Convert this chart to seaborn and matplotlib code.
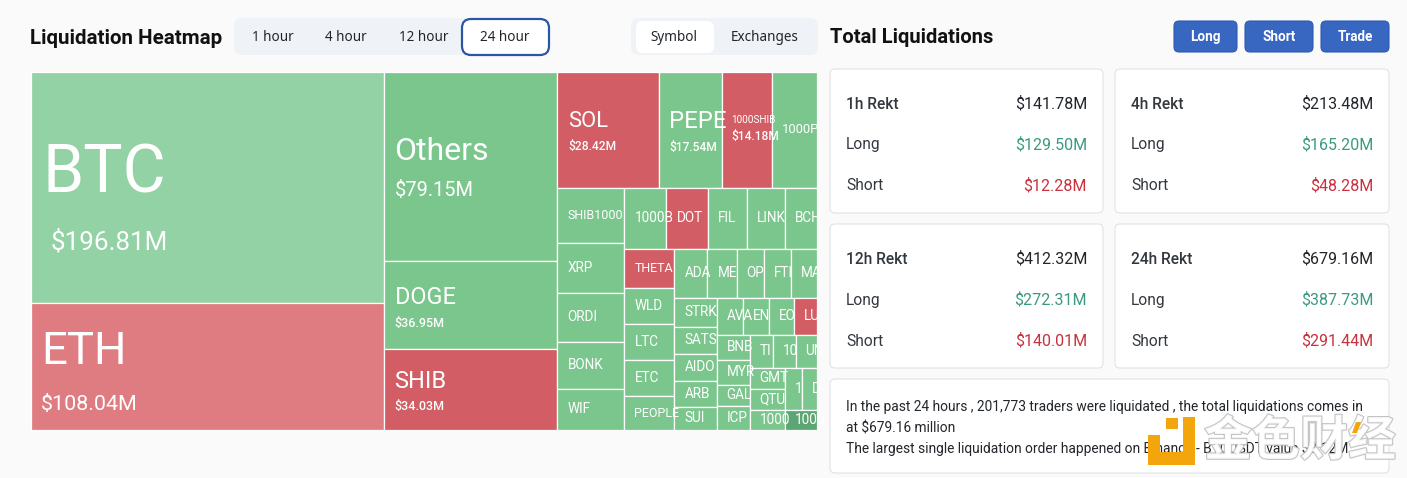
import matplotlib
matplotlib.use("Agg")
import matplotlib.pyplot as plt
import matplotlib.patheffects as pe
from matplotlib.patches import FancyBboxPatch, Rectangle, Polygon
import pandas as pd
import seaborn as sns

# ---------- data ----------
names = ["BTC", "ETH", "Others", "DOGE", "SHIB", "SOL", "PEPE", "1000SHIB", "1000P",
         "SHIB1000", "XRP", "ORDI", "BONK", "WIF",
         "1000B", "DOT", "FIL", "LINK", "BCH",
         "THETA", "WLD", "LTC", "ETC", "PEOPLE",
         "ADA", "ME", "OP", "FTI", "MA",
         "STRK", "SATS", "AIDO", "ARB", "SUI",
         "AVA", "EN", "EO", "LU",
         "BNB", "MYR", "GAL", "ICP",
         "TI", "10", "UN",
         "GMT", "QTU", "1000",
         "1", "D", "1000"]
values = [196.81, 108.04, 79.15, 36.95, 34.03, 28.42, 17.54, 14.18, 12.50,
          8.90, 8.09, 7.92, 7.60, 6.63,
          6.18, 6.04, 5.74, 5.60, 4.77,
          4.71, 4.37, 4.35, 4.33, 4.09,
          3.90, 3.43, 3.19, 3.19, 3.13,
          2.94, 2.74, 2.74, 2.64, 2.33,
          2.32, 2.32, 2.23, 2.09,
          1.99, 1.99, 1.67, 1.91,
          1.83, 1.83, 1.71,
          1.77, 1.77, 1.70,
          1.73, 1.56, 1.57]
sides = ["long", "short", "long", "long", "short", "short", "long", "short", "long",
         "long", "long", "long", "long", "long",
         "long", "short", "long", "long", "long",
         "short", "long", "long", "long", "long",
         "long", "long", "long", "long", "long",
         "long", "long", "long", "long", "long",
         "long", "long", "long", "short",
         "long", "long", "long", "long",
         "long", "long", "long",
         "long", "long", "long",
         "long", "long", "long"]
# nesting of the treemap (indices into the lists above); direction alternates by depth
tree = [[0, 1], [2, 3, 4],
        [[5, 6, 7, 8],
         [[9, 10, 11, 12, 13],
          [[14, 15, 16, 17, 18],
           [[19, 20, 21, 22, 23],
            [[24, 25, 26, 27, 28],
             [[29, 30, 31, 32, 33],
              [[34, 35, 36, 37],
               [[38, 39, 40, 41],
                [[42, 43, 44],
                 [[45, 46, 47],
                  [[48, 49], 50]]]]]]]]]]]]
periods = ["1 hour", "4 hour", "12 hour", "24 hour"]
views = ["Symbol", "Exchanges"]
buttons = ["Long", "Short", "Trade"]
card_titles = ["1h Rekt", "4h Rekt", "12h Rekt", "24h Rekt"]
card_totals = ["$141.78M", "$213.48M", "$412.32M", "$679.16M"]
card_longs = ["$129.50M", "$165.20M", "$272.31M", "$387.73M"]
card_shorts = ["$12.28M", "$48.28M", "$140.01M", "$291.44M"]
info_lines = ["In the past 24 hours , 201,773 traders were liquidated , the total liquidations comes in",
              "at $679.16 million",
              "The largest single liquidation order happened on Binance - BTCUSDT value $3.12M"]

# ---------- styles ----------
W, H = 1407, 478
BG = "#FAFAFA"
sns.set_theme(style="white", rc={"figure.facecolor": BG, "axes.facecolor": "none"})
plt.rcParams["font.family"] = ["Roboto", "DejaVu Sans"]
UI_FONT = ["Noto Sans", "DejaVu Sans"]
GREEN, RED = sns.color_palette(["#7BC68C", "#D35D64"])
CELL_COLORS = {0: "#93D2A5", 1: "#DF7C82", 50: "#5CA673"}
# name px, value px, name dy, value dy, value dx, pad
BIG = {0: (66, 26, -13, 55, 8, 12), 1: (45.5, 21.5, -14, 38, -1, 11),
       2: (32, 20, -14.5, 24, 0, 11), 3: (23.5, 12.5, -7, 19, 0, 11),
       4: (23.5, 12.5, -8, 17, 0, 10.5), 5: (22, 12, -8.5, 17, 0, 10.5),
       6: (24, 12, -8.5, 18, 0, 10.5), 7: (10, 12, -10, 7, 0, 10)}
SMALL_PX = {8: 13, 9: 12.5, 19: 12.5, 23: 12.5}


def px(p):
    return p * 0.72


def subtotal(node):
    return values[node] if isinstance(node, int) else sum(subtotal(c) for c in node)


def layout(node, x, y, w, h, horizontal, out):
    if isinstance(node, int):
        out.append((node, x, y, w, h))
        return
    totals = [subtotal(c) for c in node]
    s = sum(totals)
    for c, t in zip(node, totals):
        if horizontal:
            cw = w * t / s
            layout(c, x, y, cw, h, False, out)
            x += cw
        else:
            ch = h * t / s
            layout(c, x, y, w, ch, True, out)
            y += ch


fig = plt.figure(figsize=(W / 100, H / 100), dpi=100, facecolor=BG)
ui = fig.add_axes([0, 0, 1, 1])
ui.set_xlim(0, W)
ui.set_ylim(H, 0)
ui.axis("off")


def box(x0, y0, x1, y1, fc, ec="none", lw=0, r=6, z=1):
    ui.add_patch(FancyBboxPatch((x0 + r, y0 + r), x1 - x0 - 2 * r, y1 - y0 - 2 * r,
                                boxstyle=f"round,pad={r},rounding_size={r}",
                                fc=fc, ec=ec, lw=lw, zorder=z))


def label(x, y, s, size, color="#22262B", ha="left", weight="normal", z=3, family=None):
    ui.text(x, y, s, fontsize=px(size), color=color, ha=ha, va="center",
            fontweight=weight, zorder=z, family=family or UI_FONT)


# ---------- treemap ----------
MAP_X, MAP_Y, MAP_W, MAP_H = 30.5, 71.5, 786.5, 358.5
ax = fig.add_axes([MAP_X / W, 1 - (MAP_Y + MAP_H) / H, MAP_W / W, MAP_H / H])
ax.set_xlim(0, 1)
ax.set_ylim(1, 0)
ax.axis("off")
cells = []
layout(tree, 0, 0, 1, 1, True, cells)
df = pd.DataFrame(cells, columns=["i", "x", "y", "w", "h"]).sort_values("i")
df["name"] = [names[i] for i in df["i"]]
df["value"] = [values[i] for i in df["i"]]
df["side"] = [sides[i] for i in df["i"]]
df["color"] = [CELL_COLORS.get(i, GREEN if s == "long" else RED) for i, s in zip(df["i"], df["side"])]
bars = ax.bar(df["x"], df["h"], width=df["w"], bottom=df["y"], align="edge",
              color=df["color"], edgecolor="white", linewidth=0.9)
for bar, r in zip(bars, df.itertuples()):
    cy = r.y + r.h / 2
    if r.i in BIG:
        ns, vs, dn, dv, dx, pad = BIG[r.i]
        t1 = ax.text(r.x + pad / MAP_W, cy + dn / MAP_H, r.name, fontsize=px(ns), color="white",
                     va="center", ha="left")
        t2 = ax.text(r.x + (pad + dx) / MAP_W, cy + dv / MAP_H, f"${r.value:.2f}M", fontsize=px(vs),
                     color="white", va="center", ha="left", fontweight="medium" if vs < 15 else "normal")
        t1.set_clip_path(bar)
        t2.set_clip_path(bar)
    else:
        t = ax.text(r.x + 10 / MAP_W, cy, r.name, fontsize=px(SMALL_PX.get(r.i, 13.5)),
                    color="white", va="center", ha="left")
        t.set_clip_path(bar)

# ---------- header controls ----------
label(30, 38, "Liquidation Heatmap", 20.5, color="#111111", weight="bold", family=["Roboto"])
box(234, 18, 549, 55, "#EFF2F6", r=8)
box(462, 19, 549, 55, "white", ec="#2B55A5", lw=1.6, r=9, z=2)
for cx, s in zip([273, 346, 424, 505], periods):
    label(cx, 37, s, 13.5, ha="center")
box(631, 18, 818, 55, "#EFF2F6", r=8)
box(636, 21, 714, 53, "white", r=7, z=2)
for cx, s in zip([674, 765], views):
    label(cx, 37, s, 13.5, ha="center")

label(830, 37, "Total Liquidations", 20.2, color="#111111", weight="bold", family=["Roboto"])
for (x0, x1), s in zip([(1174, 1237), (1245, 1313), (1321, 1389)], buttons):
    box(x0, 21, x1, 52, "#3867C2", ec="#2F5AAE", lw=0.8, r=5)
    label((x0 + x1) / 2, 37, s, 13.5, color="white", ha="center", weight="bold", family=["Roboto"])

# ---------- cards ----------
card_xs = [(830, 1103), (1115, 1389), (830, 1103), (1115, 1389)]
card_ys = [69, 69, 224, 224]
for (x0, x1), y0, title, total, lng, sht in zip(card_xs, card_ys, card_titles, card_totals, card_longs, card_shorts):
    box(x0, y0, x1, y0 + 144, "white", ec="#DEDFE1", lw=0.7, r=5)
    label(x0 + 16, y0 + 35, title, 15.5, color="#33383F", weight="medium", family=["Roboto"])
    label(x1 - 16, y0 + 35, total, 16, ha="right", family=["Roboto"])
    label(x0 + 16, y0 + 76, "Long", 15.5, color="#33383F", family=["Roboto"])
    label(x1 - 16, y0 + 76, lng, 16, color="#3A9A82", ha="right", family=["Roboto"])
    label(x0 + 16, y0 + 117, "Short", 15.5, color="#33383F", family=["Roboto"])
    label(x1 - 16, y0 + 117, sht, 16, color="#C8313E", ha="right", family=["Roboto"])

box(830, 379, 1389, 473, "white", ec="#DEDFE1", lw=0.7, r=5)
for y, s in zip([407, 428, 448], info_lines):
    label(846, y, s, 13.8, family=["Roboto"])

# ---------- watermark ----------
ORANGE = "#F3A60B"
for x, y, w, h in [(1148, 452, 47, 13), (1148, 435, 12, 17), (1183, 417, 12, 35), (1166, 418, 12, 11)]:
    ui.add_patch(Rectangle((x, y), w, h, fc=ORANGE, ec="none", zorder=4))
ui.text(1300, 441, "金色财经", fontsize=px(48), color="#FFFFFF", alpha=0.9, ha="center", va="center",
        family=["Noto Sans CJK SC"], fontweight="bold", zorder=5,
        path_effects=[pe.withStroke(linewidth=1.6, foreground="#BDBDBD")])
ui.add_patch(Polygon([(1356, 422), (1361, 422), (1357, 433), (1352, 433)], fc=ORANGE, ec="none", zorder=6))

fig.savefig("out.png", dpi=100, facecolor=BG)
